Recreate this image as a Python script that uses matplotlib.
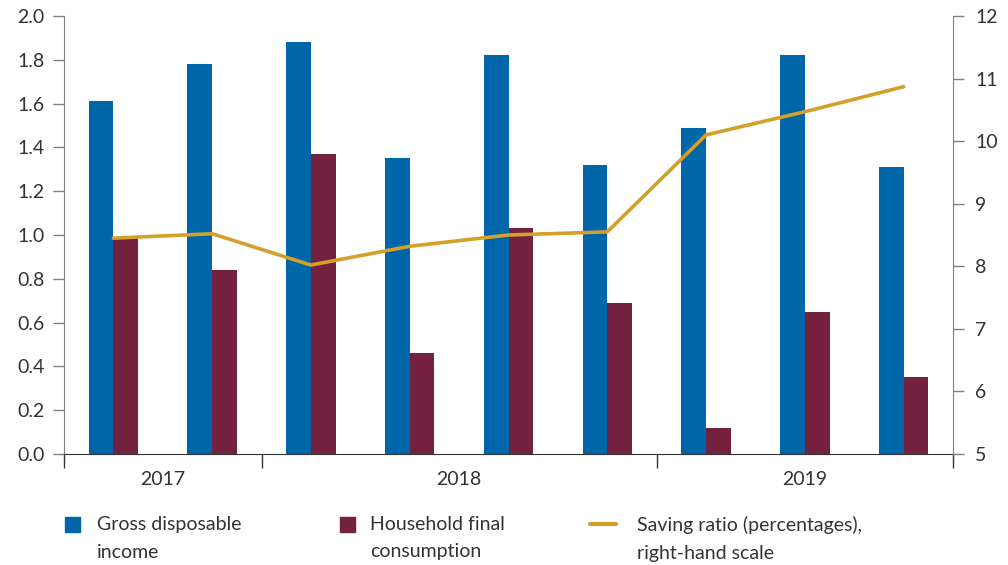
import numpy as np
import matplotlib.pyplot as plt
from matplotlib.patches import Rectangle
from matplotlib.lines import Line2D

plt.rcParams['font.family'] = ['Lato', 'DejaVu Sans']

# quarterly data, 2017 Q3 - 2019 Q3
income = [1.61, 1.78, 1.88, 1.35, 1.82, 1.32, 1.49, 1.82, 1.31]
consumption = [0.99, 0.84, 1.37, 0.46, 1.03, 0.69, 0.12, 0.65, 0.35]
saving = [8.45, 8.52, 8.02, 8.32, 8.50, 8.55, 10.10, 10.47, 10.87]
years = ["2017", "2018", "2019"]
year_pos = [0.5, 3.5, 7.0]
year_bounds = [-0.5, 1.5, 5.5, 8.5]

blue = "#0066AA"
maroon = "#74213F"
gold = "#D4A02A"
txt = "#333333"
grey = "#808080"
fs = 14

fig = plt.figure(figsize=(10.08, 5.65), dpi=100)
ax = fig.add_axes([64/1008, 1-454/565, (953-64)/1008, (454-16)/565])
x = np.arange(len(income))
w = 0.25
ax.bar(x - w/2, income, w, color=blue)
ax.bar(x + w/2, consumption, w, color=maroon)
ax.set_xlim(-0.5, 8.5)
ax.set_ylim(0, 2.0)
ax.set_yticks(np.arange(0, 2.01, 0.2))
ax.set_yticklabels([f"{v:.1f}" for v in np.arange(0, 2.01, 0.2)])
ax.set_xticks(year_pos)
ax.set_xticklabels(years)
ax.set_xticks(year_bounds, minor=True)
ax.tick_params(axis='x', which='major', length=0, pad=12, labelsize=fs, labelcolor=txt)
ax.tick_params(axis='x', which='minor', length=10, width=1, color=txt)
ax.tick_params(axis='y', length=8, width=1, color=grey, labelsize=fs, labelcolor=txt, pad=6)
for s in ['top', 'right']:
    ax.spines[s].set_visible(False)
ax.spines['left'].set_color(grey)
ax.spines['bottom'].set_color(txt)

ax2 = ax.twinx()
ax2.plot(x, saving, color=gold, lw=2.6, solid_capstyle='round')
ax2.set_ylim(5, 12)
ax2.set_yticks(range(5, 13))
ax2.tick_params(axis='y', length=8, width=1, color=grey, labelsize=fs, labelcolor=txt, pad=8)
for s in ['top', 'left', 'bottom']:
    ax2.spines[s].set_visible(False)
ax2.spines['right'].set_color(grey)

# legend drawn by hand below the plot
fig.add_artist(Rectangle((65/1008, 1-532/565), 15/1008, 15/565, color=blue, transform=fig.transFigure))
fig.add_artist(Rectangle((340/1008, 1-532/565), 15/1008, 15/565, color=maroon, transform=fig.transFigure))
fig.add_artist(Line2D([590/1008, 616/1008], [1-524/565, 1-524/565], color=gold, lw=3,
                      solid_capstyle='round', transform=fig.transFigure))
labels = ["Gross disposable\nincome", "Household final\nconsumption",
          "Saving ratio (percentages),\nright-hand scale"]
for lx, lab in zip([97, 370, 637], labels):
    fig.text(lx/1008, 1-516/565, lab, ha='left', va='top', fontsize=fs, color=txt, linespacing=1.75)

fig.savefig("out.png", dpi=100)
